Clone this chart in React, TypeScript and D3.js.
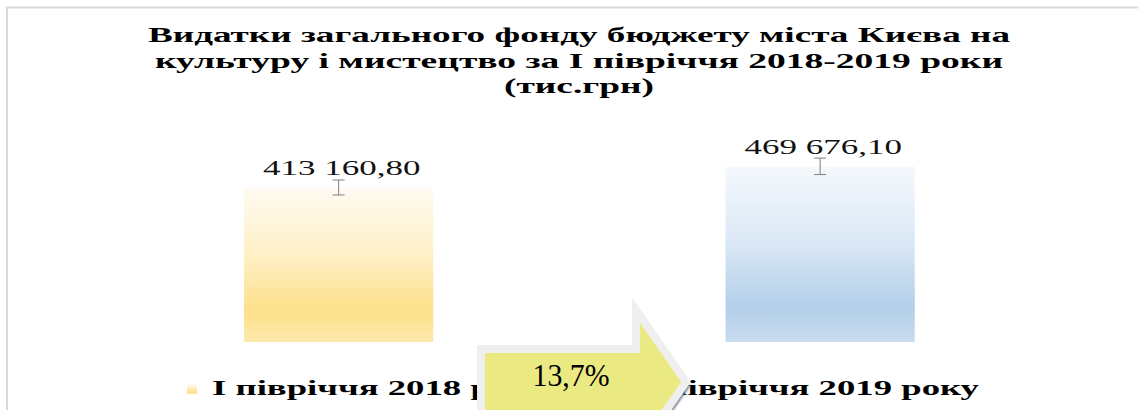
import React from "react";
import * as d3 from "d3";

const categories = ["І півріччя 2018 року", "ІІ півріччя 2019 року"];
const values = [413160.8, 469676.1];
const valueLabels = ["413 160,80", "469 676,10"];
const errorValues = [20000, 22000];
const titleLines = [
  "Видатки загального фонду бюджету міста Києва на",
  "культуру і мистецтво за І півріччя 2018-2019 роки",
  "(тис.грн)",
];
const changeLabel = "13,7%";

const W = 1138;
const H = 410;
const SX = 1.75;

const gradients = [
  { id: "g0", stops: [["0%", "#fffbf3"], ["45%", "#feefc4"], ["80%", "#fde08a"], ["100%", "#fde9ad"]] },
  { id: "g1", stops: [["0%", "#f5f9fd"], ["45%", "#d9e7f5"], ["80%", "#b3cfea"], ["100%", "#c9dcf0"]] },
];

function SText({ x, y, sx = SX, anchor = "start", size, weight = "normal", family = "'Liberation Serif', 'Times New Roman', serif", fill = "#000", children }: any) {
  return (
    <text
      transform={`translate(${x},${y}) scale(${sx},1)`}
      textAnchor={anchor}
      fontSize={size}
      fontWeight={weight}
      fontFamily={family}
      fill={fill}
    >
      {children}
    </text>
  );
}

export default function App() {
  const x = d3.scaleBand<string>().domain(categories).range([97.9, 1060.9]).paddingInner(0.607).paddingOuter(0.3035);
  const y = d3.scaleLinear().domain([0, 500000]).range([342, 155]);
  const bw = x.bandwidth();

  // arrow geometry (centerline of border)
  const bodyL = 481, bodyTop = 349, headX = 636, headTop = 310, tipX = 686, midY = 382;
  const bodyBot = midY + (midY - bodyTop);
  const headBot = midY + (midY - headTop);
  const arrowPts: [number, number][] = [
    [bodyL, bodyTop], [headX, bodyTop], [headX, headTop], [tipX, midY],
    [headX, headBot], [headX, bodyBot], [bodyL, bodyBot],
  ];
  const arrowPath = d3.line()(arrowPts) + "Z";

  const titleY = [42, 68, 93];
  const titleLen = [862, 848, 150];

  return (
    <svg width={W} height={H} style={{ position: "absolute", left: 0, top: 0, background: "#fff" }}>
      <defs>
        {gradients.map((g) => (
          <linearGradient key={g.id} id={g.id} x1="0" y1="0" x2="0" y2="1">
            {g.stops.map(([o, c]) => <stop key={o} offset={o} stopColor={c} />)}
          </linearGradient>
        ))}
        <filter id="blur" x="-20%" y="-20%" width="140%" height="140%">
          <feGaussianBlur stdDeviation="1" />
        </filter>
      </defs>
      <rect x={0} y={0} width={W} height={H} fill="#fff" />
      {/* chart border */}
      <path d={`M7,${H} L7,7.5 L${W},7.5`} fill="none" stroke="#d9d9d9" strokeWidth={2} />

      {/* title */}
      {titleLines.map((t, i) => (
        <text
          key={i}
          x={579}
          y={titleY[i]}
          textAnchor="middle"
          fontFamily="'Liberation Serif', 'Times New Roman', serif"
          fontWeight="bold"
          fontSize={21}
          textLength={titleLen[i]}
          lengthAdjust="spacingAndGlyphs"
        >
          {t}
        </text>
      ))}

      {/* bars */}
      {categories.map((c, i) => (
        <rect key={c} x={x(c)} y={y(values[i])} width={bw} height={y(0) - y(values[i])} fill={`url(#g${i})`} />
      ))}

      {/* error bars */}
      {categories.map((c, i) => {
        const cx = (x(c) as number) + bw / 2;
        const y1 = y(values[i] + errorValues[i]);
        const y2 = y(values[i] - errorValues[i]);
        return (
          <g key={c} stroke="#7f7f7f" strokeWidth={1}>
            <line x1={cx} x2={cx} y1={y1} y2={y2} />
            <line x1={cx - 6} x2={cx + 6} y1={y1} y2={y1} />
            <line x1={cx - 6} x2={cx + 6} y1={y2} y2={y2} />
          </g>
        );
      })}

      {/* value labels */}
      {categories.map((c, i) => (
        <SText key={c} x={(x(c) as number) + bw / 2 + 3} y={y(values[i]) - 12} anchor="middle" size={20} fill="#111">
          {valueLabels[i]}
        </SText>
      ))}

      {/* legend */}
      <rect x={187} y={384} width={10} height={10} fill="url(#g0)" />
      <SText x={212} y={395} size={21} weight="bold">{categories[0]}</SText>
      <SText x={979} y={395} size={21} weight="bold" anchor="end">{categories[1]}</SText>

      {/* arrow */}
      <path d={arrowPath} transform="translate(4,4)" fill="#6f7b8c" filter="url(#blur)" />
      <path d={arrowPath} fill="#ebe982" stroke="#efefef" strokeWidth={8} strokeLinejoin="miter" strokeMiterlimit={10} />
      <text
        x={571}
        y={386}
        textAnchor="middle"
        fontFamily="'Liberation Serif', 'Times New Roman', serif"
        fontSize={31}
        textLength={77}
        lengthAdjust="spacingAndGlyphs"
        fill="#000"
      >
        {changeLabel}
      </text>
    </svg>
  );
}
